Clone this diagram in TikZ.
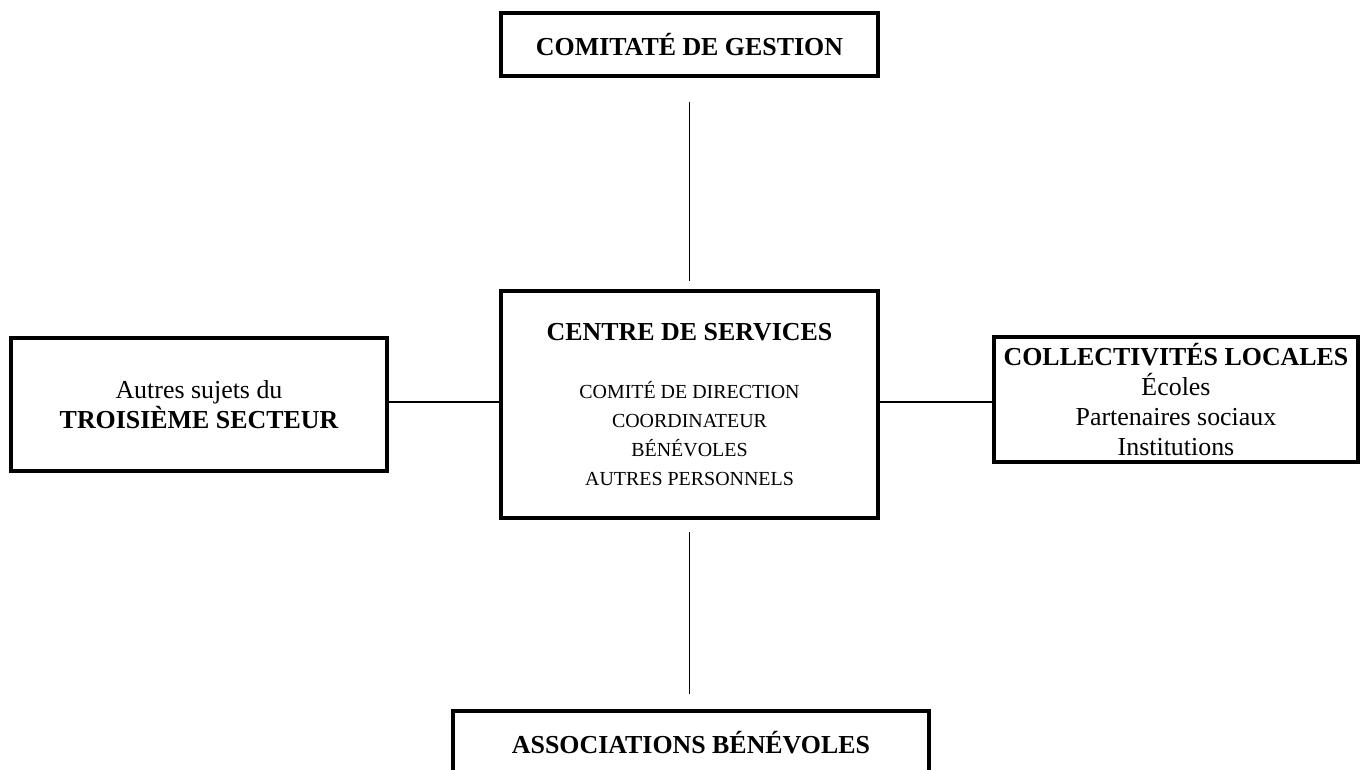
\documentclass[tikz,border=0pt]{standalone}
\usepackage{fontspec}
\setmainfont{Liberation Serif}
\begin{document}
\begin{tikzpicture}[x=1bp,y=-1bp,
  boxnode/.style={draw, line width=3.2bp, inner sep=0pt, align=center, font=\fontsize{26}{30}\selectfont},
  conn/.style={line width=1.5bp}]
\useasboundingbox (0,0) rectangle (1360,769);
\node[boxnode, minimum width=377bp, minimum height=63bp] (top) at (689.5,44.5) {\bfseries COMITATÉ DE GESTION};
\node[boxnode, minimum width=377bp, minimum height=227bp, font=\fontsize{20}{29}\selectfont] (center) at (689.5,404.5)
  {{\fontsize{26}{29}\selectfont\bfseries CENTRE DE SERVICES}\\[29pt]
   COMITÉ DE DIRECTION\\ COORDINATEUR\\ BÉNÉVOLES\\ AUTRES PERSONNELS};
\node[boxnode, minimum width=376bp, minimum height=133bp] (left) at (199,404.5)
  {Autres sujets du\\ \bfseries TROISIÈME SECTEUR};
\node[boxnode, minimum width=364bp, minimum height=125bp] (right) at (1176,399.5)
  {\bfseries COLLECTIVITÉS LOCALES\\ Écoles\\ Partenaires sociaux\\ Institutions};
\node[boxnode, minimum width=476bp, minimum height=64bp] (bottom) at (691,743) {\bfseries ASSOCIATIONS BÉNÉVOLES};
\coordinate (hl) at (0,402);
\draw[conn, shorten <=24bp, shorten >=8bp] (top.south) -- (center.north);
\draw[conn, shorten <=12bp, shorten >=15bp] (center.south) -- (center.south |- bottom.north);
\draw[conn] (left.east |- hl) -- (center.west |- hl);
\draw[conn] (center.east |- hl) -- (right.west |- hl);
\end{tikzpicture}
\end{document}
